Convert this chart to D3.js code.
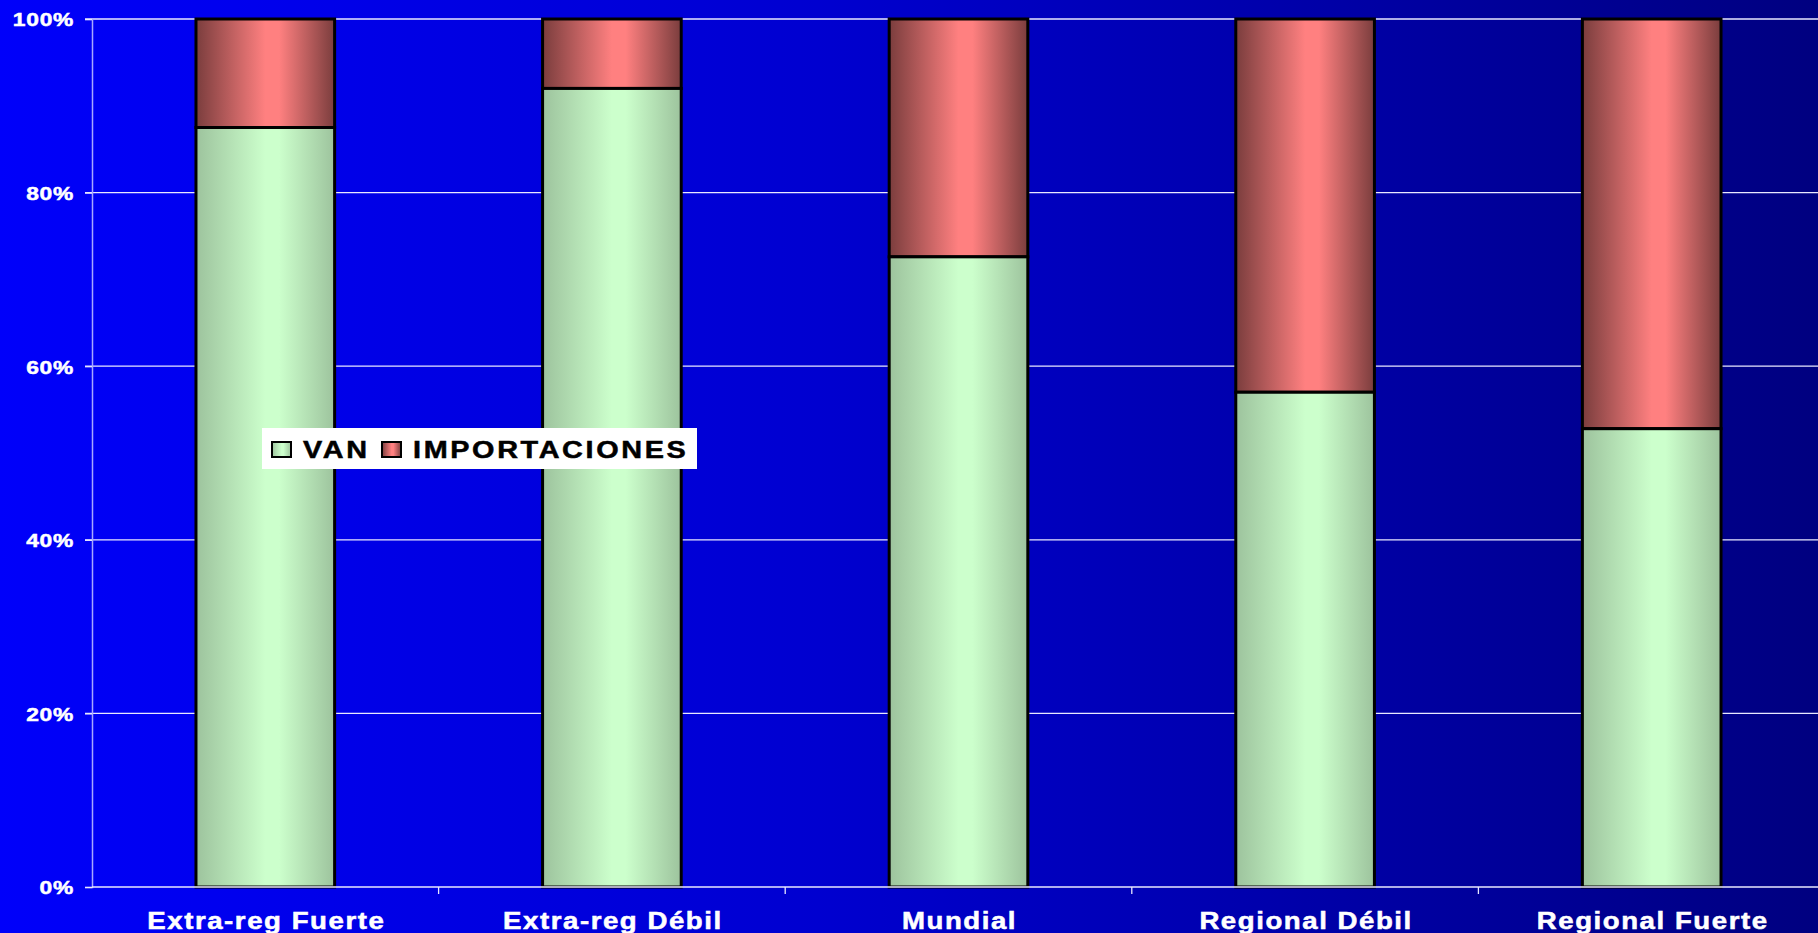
<!DOCTYPE html>
<html>
<head>
<meta charset="utf-8">
<script src="https://cdn.jsdelivr.net/npm/d3@7"></script>
<style>
  html, body { margin: 0; padding: 0; overflow: hidden; }
  text { font-family: "Liberation Sans", Arial, sans-serif; font-weight: bold; }
</style>
</head>
<body>
<script>
// data (share of total, %)
var categories = ['Extra-reg Fuerte', 'Extra-reg Débil', 'Mundial', 'Regional Débil', 'Regional Fuerte'];
var van          = [87.5, 92.0, 72.6, 57.0, 52.8];
var importaciones = [12.5, 8.0, 27.4, 43.0, 47.2];
var seriesNames  = ['VAN', 'IMPORTACIONES'];
var yTicks       = [0, 20, 40, 60, 80, 100];

var width  = 1818;
var height = 933;
var margin = { top: 19, bottom: 46, left: 92, right: -7 };
var stretch = 1.2; // the original text is drawn wide

var svg = d3.select('body')
  .append('svg')
    .attr('width', width)
    .attr('height', height);

let defs = svg.append('defs');

// background: bright blue to navy, left to right
let bg = defs.append('linearGradient').attr('id', 'bg').attr('x1', 0).attr('x2', 1).attr('y1', 0).attr('y2', 0);
bg.append('stop').attr('offset', '0%').attr('stop-color', '#0000fa');
bg.append('stop').attr('offset', '45%').attr('stop-color', '#0000d0');
bg.append('stop').attr('offset', '100%').attr('stop-color', '#000080');

function barGradient(id, edge, mid) {
  let g = defs.append('linearGradient').attr('id', id).attr('x1', 0).attr('x2', 1).attr('y1', 0).attr('y2', 0);
  g.append('stop').attr('offset', '0%').attr('stop-color', edge);
  g.append('stop').attr('offset', '50%').attr('stop-color', mid);
  g.append('stop').attr('offset', '60%').attr('stop-color', mid);
  g.append('stop').attr('offset', '100%').attr('stop-color', edge);
}
barGradient('gVan', '#9dc39d', '#ccffcc');
barGradient('gImp', '#7a3d3d', '#ff8080');

svg.append('rect')
    .attr('width', width)
    .attr('height', height)
    .attr('fill', 'url(#bg)');

let xScale = d3.scaleBand()
    .domain(categories)
    .range([margin.left, width - margin.right])
    .paddingInner(0.6)
    .paddingOuter(0.3);

let yScale = d3.scaleLinear()
    .domain([0, 100])
    .range([height - margin.bottom, margin.top]);

// gridlines
svg.append('g')
  .selectAll('line')
  .data(yTicks.filter(function (d) { return d > 0; }))
  .enter().append('line')
    .attr('x1', margin.left - 7)
    .attr('x2', width)
    .attr('y1', function (d) { return yScale(d); })
    .attr('y2', function (d) { return yScale(d); })
    .attr('stroke', '#e8e8ff')
    .attr('stroke-width', 1.3);

// y axis
let yAxis = d3.axisLeft(yScale)
    .tickValues(yTicks)
    .tickSize(7)
    .tickFormat(function (d) { return d + '%'; });

let yG = svg.append('g')
    .attr('transform', 'translate(' + margin.left + ',0)')
    .call(yAxis);
yG.select('.domain').attr('stroke', '#a8a8ff').attr('stroke-width', 1.5);
yG.selectAll('.tick line').attr('stroke', '#e8e8ff').attr('stroke-width', 1.3);
yG.selectAll('.tick text')
    .attr('x', 0)
    .attr('transform', 'translate(-18,0) scale(' + stretch + ',1)')
    .attr('fill', '#ffffff')
    .attr('stroke', '#ffffff')
    .attr('stroke-width', 0.5)
    .style('font-size', '19px')
    .style('letter-spacing', '0.6px')
    .style('font-family', '"Liberation Sans", Arial, sans-serif')
    .style('font-weight', 'bold')
    .attr('dy', '0.36em');

// bars
let stacked = categories.map(function (c, i) {
  return { cat: c, van: van[i], imp: importaciones[i] };
});

let bars = svg.append('g').selectAll('g').data(stacked).enter().append('g');

bars.append('rect')
    .attr('x', function (d) { return xScale(d.cat); })
    .attr('width', xScale.bandwidth())
    .attr('y', function (d) { return yScale(d.van + d.imp); })
    .attr('height', function (d) { return yScale(d.van) - yScale(d.van + d.imp); })
    .attr('fill', 'url(#gImp)')
    .attr('stroke', '#000000')
    .attr('stroke-width', 3);

bars.append('rect')
    .attr('x', function (d) { return xScale(d.cat); })
    .attr('width', xScale.bandwidth())
    .attr('y', function (d) { return yScale(d.van); })
    .attr('height', function (d) { return yScale(0) - yScale(d.van); })
    .attr('fill', 'url(#gVan)')
    .attr('stroke', '#000000')
    .attr('stroke-width', 3);

// x axis
let step = xScale.step();
let xG = svg.append('g');
xG.append('line')
    .attr('x1', margin.left)
    .attr('x2', width)
    .attr('y1', yScale(0))
    .attr('y2', yScale(0))
    .attr('stroke', '#e8e8ff')
    .attr('stroke-width', 1.5);

xG.selectAll('.xtick')
  .data(categories.slice(1))
  .enter().append('line')
    .attr('class', 'xtick')
    .attr('x1', function (d) { return xScale(d) - step * 0.3; })
    .attr('x2', function (d) { return xScale(d) - step * 0.3; })
    .attr('y1', yScale(0))
    .attr('y2', yScale(0) + 7)
    .attr('stroke', '#e8e8ff')
    .attr('stroke-width', 1.3);

xG.selectAll('.xlabel')
  .data(categories)
  .enter().append('text')
    .attr('class', 'xlabel')
    .attr('transform', function (d) {
      return 'translate(' + (xScale(d) + xScale.bandwidth() / 2 + 1) + ',' + (yScale(0) + 42) + ') scale(' + stretch + ',1)';
    })
    .attr('text-anchor', 'middle')
    .attr('fill', '#ffffff')
    .attr('stroke', '#ffffff')
    .attr('stroke-width', 0.5)
    .style('font-size', '23px')
    .style('letter-spacing', '1.3px')
    .text(function (d) { return d; });

// legend
let legend = svg.append('g').attr('transform', 'translate(262,428)');
legend.append('rect')
    .attr('width', 435)
    .attr('height', 41)
    .attr('fill', '#ffffff');

let legendX = [10, 120];
let legendFill = ['url(#gVan)', 'url(#gImp)'];
let items = legend.selectAll('.item')
  .data(seriesNames)
  .enter().append('g')
    .attr('class', 'item')
    .attr('transform', function (d, i) { return 'translate(' + legendX[i] + ',0)'; });

items.append('rect')
    .attr('y', 14)
    .attr('width', 19)
    .attr('height', 15)
    .attr('fill', function (d, i) { return legendFill[i]; })
    .attr('stroke', '#000000')
    .attr('stroke-width', 2);

items.append('text')
    .attr('transform', 'translate(31,30) scale(' + stretch + ',1)')
    .attr('fill', '#000000')
    .attr('stroke', '#000000')
    .attr('stroke-width', 0.5)
    .style('font-size', '24px')
    .style('letter-spacing', '2.2px')
    .text(function (d) { return d; });
</script>
</body>
</html>
